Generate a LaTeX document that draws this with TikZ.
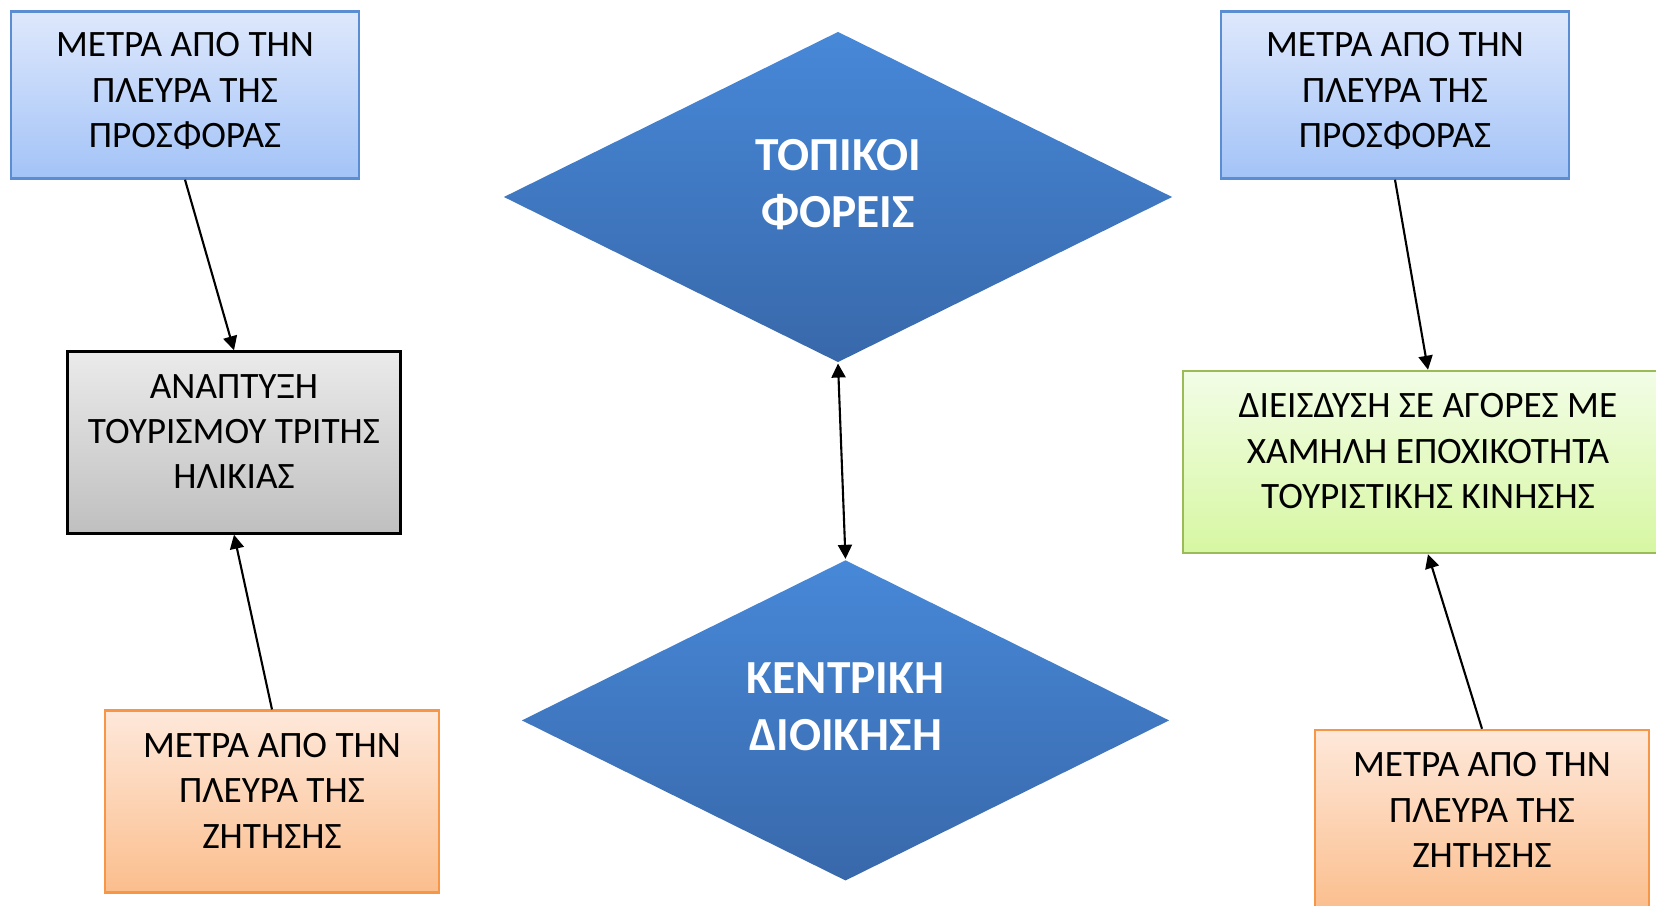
\documentclass[tikz,border=0pt]{standalone}
\usepackage{fontspec}
\setmainfont{Carlito}
\usepackage{tikz}
\usetikzlibrary{arrows.meta}
\usetikzlibrary{shapes.geometric}

\definecolor{offertop}{HTML}{DEE8FC}
\definecolor{offerbot}{HTML}{A3C3F7}
\definecolor{offerline}{HTML}{5B8DD3}
\definecolor{demandtop}{HTML}{FEE8DA}
\definecolor{demandbot}{HTML}{FBBE8D}
\definecolor{demandline}{HTML}{F79646}
\definecolor{greentop}{HTML}{F2FDE6}
\definecolor{greenbot}{HTML}{D7F7A2}
\definecolor{greenline}{HTML}{9BBB59}
\definecolor{rhombtop}{HTML}{4788D8}
\definecolor{rhombbot}{HTML}{3868AA}

\begin{document}
\begin{tikzpicture}[->,>={Triangle[length=0.14cm,width=0.14cm]},semithick,
        box/.style={rectangle,draw,line width=0.7pt,minimum height=1.82cm,align=center,
            font=\fontsize{10.6}{12.9}\selectfont,text depth=0.22cm},
        offer/.style={box,draw=offerline,top color=offertop,bottom color=offerbot,
            minimum width=3.48cm,minimum height=1.67cm,text depth=0.1cm},
        demand/.style={box,draw=demandline,top color=demandtop,bottom color=demandbot,minimum width=3.34cm},
        rhomb/.style={diamond,aspect=2,draw=none,top color=rhombtop,bottom color=rhombbot,text=white,align=center,
            font=\bfseries\fontsize{13.5}{16.3}\selectfont,text depth=0.27cm}]
		\useasboundingbox (0,0) rectangle (16.56,9.06);
		\node [rhomb,minimum width=6.69cm,minimum height=3.31cm] (1) at (8.38, 7.09) {ΤΟΠΙΚΟΙ\\ΦΟΡΕΙΣ};
		\node [rhomb,minimum width=6.48cm,minimum height=3.21cm] (2) at (8.455, 1.856) {ΚΕΝΤΡΙΚΗ\\ΔΙΟΙΚΗΣΗ};
		\node [offer] (3) at (1.85, 8.11) {ΜΕΤΡΑ ΑΠΟ ΤΗΝ\\ΠΛΕΥΡΑ ΤΗΣ\\ΠΡΟΣΦΟΡΑΣ};
		\node [offer] (4) at (13.95, 8.11) {ΜΕΤΡΑ ΑΠΟ ΤΗΝ\\ΠΛΕΥΡΑ ΤΗΣ\\ΠΡΟΣΦΟΡΑΣ};
		\node [box,draw=black,top color=black!8,bottom color=black!25,minimum width=3.33cm] (5) at (2.34, 4.635) {ΑΝΑΠΤΥΞΗ\\ΤΟΥΡΙΣΜΟΥ ΤΡΙΤΗΣ\\ΗΛΙΚΙΑΣ};
		\node [box,draw=greenline,top color=greentop,bottom color=greenbot,minimum width=4.90cm] (6) at (14.28, 4.44) {ΔΙΕΙΣΔΥΣΗ ΣΕ ΑΓΟΡΕΣ ΜΕ\\ΧΑΜΗΛΗ ΕΠΟΧΙΚΟΤΗΤΑ\\ΤΟΥΡΙΣΤΙΚΗΣ ΚΙΝΗΣΗΣ};
		\node [demand] (7) at (2.72, 1.043) {ΜΕΤΡΑ ΑΠΟ ΤΗΝ\\ΠΛΕΥΡΑ ΤΗΣ\\ΖΗΤΗΣΗΣ};
		\node [demand] (8) at (14.82, 0.85) {ΜΕΤΡΑ ΑΠΟ ΤΗΝ\\ΠΛΕΥΡΑ ΤΗΣ\\ΖΗΤΗΣΗΣ};
		\draw (3.south) to (5.north);
		\draw (7.north) to (5.south);
		\draw (4.south) to (6.north);
		\draw (8.north) to (6.south);
		\draw [<->] (1.south) to (2.north);
\end{tikzpicture}
\end{document}
